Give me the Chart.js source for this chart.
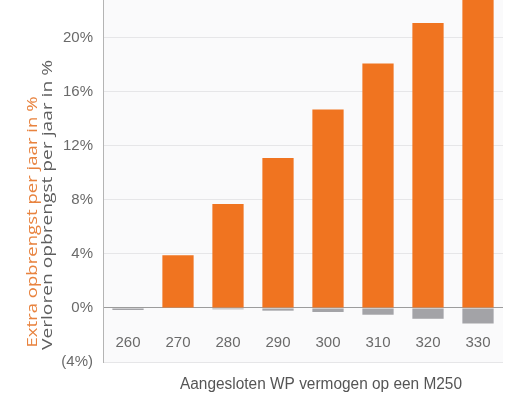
<!DOCTYPE html>
<html>
<head>
<meta charset="utf-8">
<script src="https://cdn.jsdelivr.net/npm/chart.js@4/dist/chart.umd.min.js"></script>
<style>
html,body{margin:0;padding:0;background:#ffffff;}
canvas{display:block;}
</style>
</head>
<body>
<canvas id="c" width="526" height="395"></canvas>
<script>
const categories = ['260', '270', '280', '290', '300', '310', '320', '330'];
const extraYield = [0, 3.9, 7.7, 11.1, 14.7, 18.1, 21.1, 24.0];
const lostYield = [-0.15, 0, -0.1, -0.2, -0.3, -0.5, -0.8, -1.15];
const yTickValues = [-4, 0, 4, 8, 12, 16, 20];
const yTitleExtra = 'Extra opbrengst per jaar in %';
const yTitleLost = 'Verloren opbrengst per jaar in %';
const xTitle = 'Aangesloten WP vermogen op een M250';

const ORANGE = '#f07420';
const GREY_BAR = '#a3a3a7';
const NARROW = '"Liberation Sans Narrow", "Liberation Sans", Arial, sans-serif';
const TICK_FONT = {family: NARROW, size: 15};

function drawStretched(ctx, text, cx, cy, len, font, color, rotated) {
  ctx.save();
  ctx.font = font;
  ctx.fillStyle = color;
  ctx.textAlign = 'center';
  ctx.textBaseline = 'middle';
  const w = ctx.measureText(text).width;
  ctx.translate(cx, cy);
  if (rotated) ctx.rotate(-Math.PI / 2);
  ctx.scale(len / w, 1);
  ctx.fillText(text, 0, 0);
  ctx.restore();
}

const decor = {
  id: 'decor',
  beforeDraw(chart) {
    const {ctx, chartArea: a} = chart;
    ctx.save();
    ctx.fillStyle = '#fafafb';
    ctx.fillRect(a.left, a.top, a.right - a.left, a.bottom - a.top);
    ctx.restore();
  },
  afterDraw(chart) {
    const ctx = chart.ctx;
    const xs = chart.scales.x;
    const ys = chart.scales.y;
    // category labels sit inside the plot, between the 0% line and the (4%) line
    const labelY = (ys.getPixelForValue(0) + ys.getPixelForValue(-4)) / 2 + 8;
    ctx.save();
    ctx.font = '15px ' + NARROW;
    ctx.fillStyle = '#6a6a6a';
    ctx.textAlign = 'center';
    ctx.textBaseline = 'middle';
    categories.forEach((c, i) => ctx.fillText(c, xs.getPixelForTick(i), labelY));
    ctx.restore();
    drawStretched(ctx, yTitleExtra, 33, 222, 251, '14px "Open Sans", sans-serif', '#e8833f', true);
    drawStretched(ctx, yTitleLost, 48, 205, 290, '14px "Open Sans", sans-serif', '#5e5e5e', true);
    drawStretched(ctx, xTitle, 321, 385, 282, '16px ' + NARROW, '#555555', false);
  }
};

new Chart(document.getElementById('c'), {
  type: 'bar',
  data: {
    labels: categories,
    datasets: [
      {label: 'Extra', data: extraYield, backgroundColor: ORANGE, borderWidth: 0},
      {label: 'Verloren', data: lostYield, backgroundColor: GREY_BAR, borderWidth: 0}
    ]
  },
  options: {
    responsive: false,
    animation: false,
    devicePixelRatio: 1,
    layout: {padding: {left: 0, right: 23, top: 0, bottom: 0}},
    plugins: {legend: {display: false}, tooltip: {enabled: false}},
    datasets: {bar: {categoryPercentage: 1, barPercentage: 0.625}},
    scales: {
      x: {
        stacked: true,
        grid: {display: false, drawTicks: false},
        border: {display: false},
        ticks: {display: false},
        afterFit(s) { s.height = 33; }
      },
      y: {
        stacked: true,
        min: -4,
        max: 22.8,
        afterBuildTicks(s) { s.ticks = yTickValues.map(v => ({value: v})); },
        afterFit(s) { s.width = 103; s.paddingTop = 0; s.paddingBottom = 0; },
        grid: {
          drawTicks: false,
          color: (c) => (c.tick && c.tick.value === 0) ? '#9c9c9c' : '#e6e6e8',
          lineWidth: 1
        },
        border: {display: true, color: '#b4b4b4', width: 1},
        ticks: {
          color: '#6a6a6a',
          font: TICK_FONT,
          padding: 10,
          callback: (v) => v < 0 ? '(' + (-v) + '%)' : v + '%'
        }
      }
    }
  },
  plugins: [decor]
});
</script>
</body>
</html>
